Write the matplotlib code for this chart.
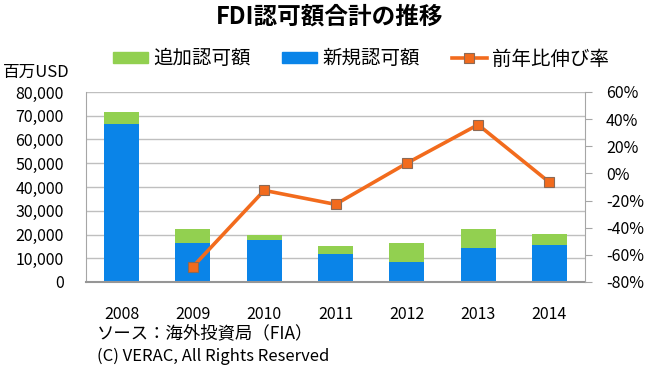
import numpy as np
import matplotlib
matplotlib.use("Agg")
import matplotlib.pyplot as plt
from matplotlib.patches import Patch
from matplotlib.lines import Line2D

plt.rcParams['font.family'] = ['Noto Sans CJK JP', 'DejaVu Sans']

# data (million USD, %)
years = ["2008", "2009", "2010", "2011", "2012", "2013", "2014"]
new_approved = [66500, 16600, 17700, 11800, 8400, 14300, 15600]
added_approved = [5100, 5700, 2000, 3400, 8000, 8000, 4500]
yoy_growth = [np.nan, -68.7, -12.5, -22.8, 7.5, 35.9, -6.5]

GREEN = "#92D050"
BLUE = "#0A84E8"
ORANGE = "#F26B1D"

fig = plt.figure(figsize=(6.5, 3.82), dpi=100)
ax = fig.add_axes([86 / 650, 1 - 282 / 382, (585 - 86) / 650, (282 - 92) / 382])
x = np.arange(len(years))

ax.bar(x, new_approved, 0.49, color=BLUE, zorder=2)
ax.bar(x, added_approved, 0.49, bottom=new_approved, color=GREEN, zorder=2)
ax.set_xlim(-0.5, len(years) - 0.5)
ax.set_ylim(0, 80000)
ax.set_yticks(np.arange(0, 80001, 10000))
ax.set_yticklabels([f"{v:,}" for v in range(0, 80001, 10000)], fontsize=11.5)
ax.tick_params(axis="y", length=0, pad=16)
ax.set_xticks(x)
ax.set_xticklabels(years, fontsize=11.5)
ax.tick_params(axis="x", length=0, pad=17)
ax.grid(axis="y", color="#BFBFBF", linewidth=1, zorder=0)
ax.set_axisbelow(True)
for s in ["top", "right"]:
    ax.spines[s].set_visible(False)
ax.spines["left"].set_color("#A6A6A6")
ax.spines["bottom"].set_color("#969696")
ax.spines["bottom"].set_linewidth(1.5)

ax2 = ax.twinx()
ax2.plot(x, yoy_growth, color=ORANGE, linewidth=2.6, marker="s", markersize=6.5,
         markerfacecolor=ORANGE, markeredgecolor="#8C6A55", markeredgewidth=0.8, zorder=3)
ax2.set_ylim(-80, 60)
ax2.set_yticks(np.arange(-80, 61, 20))
ax2.set_yticklabels([f"{v}%" for v in range(-80, 61, 20)], fontsize=11.5)
ax2.tick_params(axis="y", length=5, color="#A6A6A6", pad=10)
for s in ["top", "left", "bottom"]:
    ax2.spines[s].set_visible(False)
ax2.spines["right"].set_color("#A6A6A6")

fig.text(330 / 650, 1 - 17 / 382, "FDI認可額合計の推移", ha="center", va="center",
         fontsize=17, fontweight="bold")
fig.text(3 / 650, 1 - 72 / 382, "百万USD", ha="left", va="center", fontsize=12)

handles = [Patch(color=GREEN), Patch(color=BLUE),
           Line2D([0], [0], color=ORANGE, linewidth=2.6, marker="s", markersize=6.5,
                  markeredgecolor="#8C6A55", markeredgewidth=0.8)]
fig.legend(handles, ["追加認可額", "新規認可額", "前年比伸び率"], loc="center",
           bbox_to_anchor=(361 / 650, 1 - 59 / 382), ncol=3, frameon=False,
           fontsize=14, handlelength=1.8, handleheight=0.45, columnspacing=1.6,
           handletextpad=0.3, borderpad=0, borderaxespad=0)

fig.text(97 / 650, 1 - 333 / 382, "ソース：海外投資局（FIA）", ha="left", va="center", fontsize=12.5)
fig.text(97 / 650, 1 - 356 / 382, "(C) VERAC, All Rights Reserved", ha="left", va="center",
         fontsize=12)

fig.savefig("out.png", dpi=100)
